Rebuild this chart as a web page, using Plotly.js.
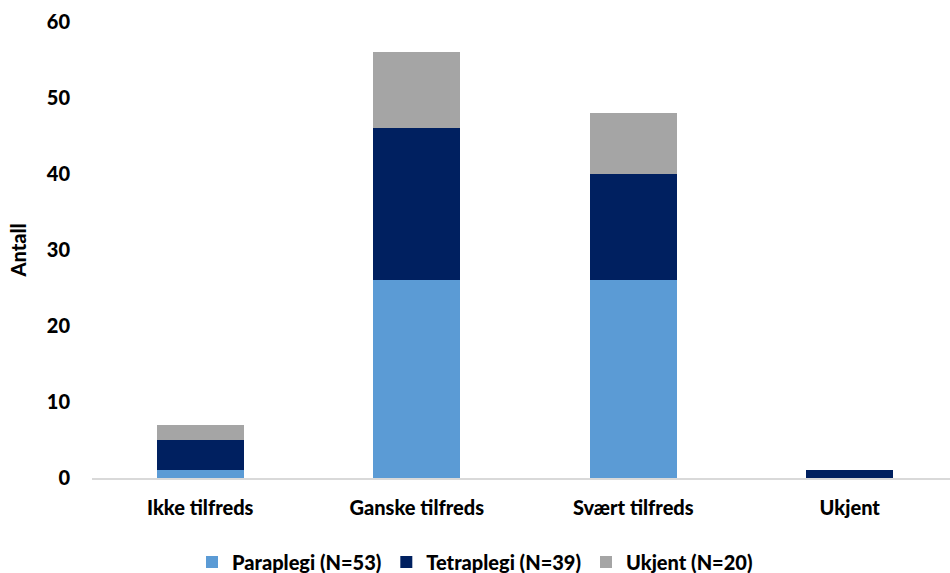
<!DOCTYPE html>
<html>
<head>
<meta charset="utf-8">
<script src="https://cdn.plot.ly/plotly-3.0.1.min.js"></script>
<style>html,body{margin:0;padding:0;background:#fff}#chart{width:950px;height:573px}</style>
</head>
<body>
<div id="chart"></div>
<script>
const categories = ["Ikke tilfreds", "Ganske tilfreds", "Svært tilfreds", "Ukjent"];
const paraplegi = [1, 26, 26, 0];
const tetraplegi = [4, 20, 14, 1];
const ukjent = [2, 10, 8, 0];
const seriesNames = ["Paraplegi (N=53)", "Tetraplegi (N=39)", "Ukjent (N=20)"];
const colors = ["#5B9BD5", "#002060", "#A5A5A5"];

const FONT = "Lato, 'Open Sans', sans-serif";
const F = {family: FONT, size: 20, color: "#000", weight: 900};
const traces = [paraplegi, tetraplegi, ukjent].map((vals, i) => ({
  type: "bar",
  x: categories,
  y: vals,
  name: seriesNames[i],
  marker: {color: colors[i]},
  hoverinfo: "skip"
}));

const layout = {
  width: 950, height: 573,
  barmode: "stack",
  bargap: 0.6,
  margin: {l: 92, r: 0, t: 22, b: 95},
  paper_bgcolor: "#fff", plot_bgcolor: "#fff",
  font: F,
  xaxis: {
    type: "category",
    range: [-0.5, 3.463],
    showline: true, linecolor: "#D9D9D9", linewidth: 2,
    ticks: "", showgrid: false,
    tickfont: F,
    ticklabelstandoff: 11
  },
  yaxis: {
    range: [0, 60], dtick: 10,
    showgrid: false, zeroline: false, showline: false, ticks: "",
    tickfont: F,
    ticklabelstandoff: 21,
    title: {text: "Antall", font: F, standoff: 14}
  },
  showlegend: true,
  legend: {
    orientation: "h",
    xref: "container", yref: "container",
    x: 0.5, xanchor: "center", y: 0.019, yanchor: "middle",
    font: F,
    itemwidth: 30, tracegroupgap: 0, traceorder: "normal"
  }
};

Plotly.newPlot("chart", traces, layout, {displayModeBar: false, staticPlot: true});
</script>
</body>
</html>
